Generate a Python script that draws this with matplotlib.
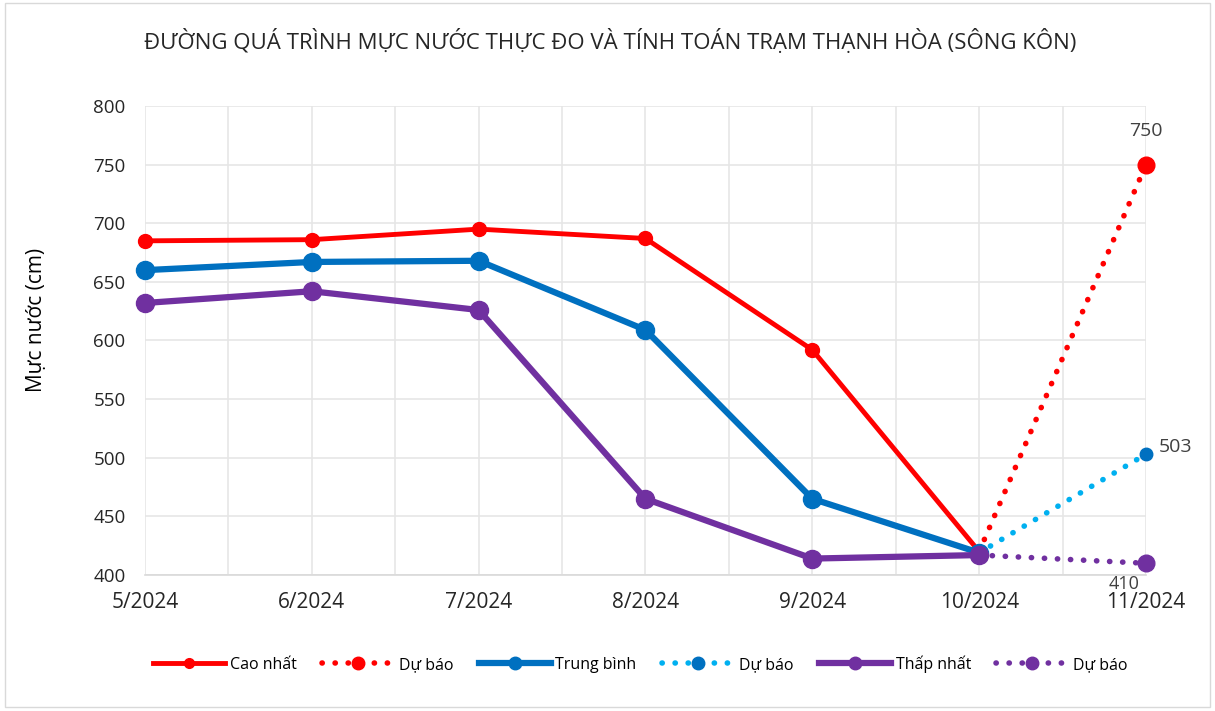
import numpy as np
import matplotlib.pyplot as plt
from matplotlib.lines import Line2D
from matplotlib.patches import Rectangle

plt.rcParams['font.family'] = ['Open Sans', 'DejaVu Sans']

months = ["5/2024", "6/2024", "7/2024", "8/2024", "9/2024", "10/2024", "11/2024"]
cao_nhat = [685, 686, 695, 687, 592, 420]
trung_binh = [660, 667, 668, 609, 465, 419]
thap_nhat = [632, 642, 626, 465, 414, 417]
du_bao_cao = [420, 750]
du_bao_tb = [419, 503]
du_bao_thap = [417, 410]

c_red = "#FF0000"
c_blue = "#0070C0"
c_lblue = "#00B0F0"
c_purple = "#7030A0"

fig = plt.figure(figsize=(12.15, 7.11), dpi=100)
ax = fig.add_axes([0.1193, 0.1913, 0.8239, 0.6596])

x = np.arange(len(cao_nhat))
xf = np.array([5, 6])
dots = (0, (0.05, 2.3))

ax.plot(xf, du_bao_cao, color=c_red, lw=4, linestyle=dots, dash_capstyle='round', zorder=3, clip_on=False)
ax.plot(xf[1:], du_bao_cao[1:], 'o', color=c_red, ms=12, zorder=4, clip_on=False)
ax.plot(xf, du_bao_tb, color=c_lblue, lw=4, linestyle=dots, dash_capstyle='round', zorder=3, clip_on=False)
ax.plot(xf[1:], du_bao_tb[1:], 'o', color=c_blue, ms=9, zorder=4, clip_on=False)
ax.plot(xf, du_bao_thap, color=c_purple, lw=4, linestyle=dots, dash_capstyle='round', zorder=3, clip_on=False)
ax.plot(xf[1:], du_bao_thap[1:], 'o', color=c_purple, ms=12, zorder=4, clip_on=False)

ax.plot(x, cao_nhat, color=c_red, lw=3.5, marker='o', ms=10, zorder=5, clip_on=False)
ax.plot(x, trung_binh, color=c_blue, lw=4.5, marker='o', ms=13, zorder=6, clip_on=False)
ax.plot(x, thap_nhat, color=c_purple, lw=4.5, marker='o', ms=13, zorder=7, clip_on=False)

ax.annotate(str(du_bao_cao[1]), (6, du_bao_cao[1]), xytext=(0, 18), textcoords='offset points',
            ha='center', va='bottom', fontsize=14, color='#404040')
ax.annotate(str(du_bao_tb[1]), (6, du_bao_tb[1]), xytext=(9, 5), textcoords='offset points',
            ha='left', va='center', fontsize=14, color='#404040')
ax.annotate(str(du_bao_thap[1]), (6, du_bao_thap[1]), xytext=(-16, -15), textcoords='offset points',
            ha='center', va='center', fontsize=13, color='#404040')

ax.set_xlim(0, 6)
ax.set_ylim(400, 800)
ax.set_yticks(np.arange(400, 801, 50))
ax.set_xticks(x.tolist() + [6])
ax.set_xticklabels(months, fontsize=15, color='#262626')
ax.set_xticks(np.arange(0.5, 6, 1), minor=True)
ax.tick_params(axis='y', labelsize=13.5, colors='#262626', length=0, pad=14)
ax.tick_params(axis='x', which='both', length=0, pad=12)
ax.grid(True, which='both', color='#e6e6e6', lw=1.2)
ax.set_axisbelow(True)
for s in ['top', 'right', 'left']:
    ax.spines[s].set_visible(False)
ax.spines['bottom'].set_color('#d9d9d9')
ax.spines['bottom'].set_linewidth(1.2)

fig.text(0.03, 0.55, "Mực nước (cm)", rotation=90, ha='center', va='center',
         fontsize=15, color='#000000')

fig.text(0.502, 0.941, "ĐƯỜNG QUÁ TRÌNH MỰC NƯỚC THỰC ĐO VÀ TÍNH TOÁN TRẠM THẠNH HÒA (SÔNG KÔN)",
         ha='center', va='center', fontsize=16, color='#262626')

handles = [
    Line2D([], [], color=c_red, lw=3.5, marker='o', ms=7),
    Line2D([], [], color=c_red, lw=4, linestyle=dots, dash_capstyle='round', marker='o', ms=9),
    Line2D([], [], color=c_blue, lw=4.5, marker='o', ms=9),
    Line2D([], [], color=c_lblue, lw=4, linestyle=dots, dash_capstyle='round', marker='o', ms=9, mfc=c_blue, mec=c_blue),
    Line2D([], [], color=c_purple, lw=4.5, marker='o', ms=9),
    Line2D([], [], color=c_purple, lw=4, linestyle=dots, dash_capstyle='round', marker='o', ms=9),
]
labels = ["Cao nhất", "Dự báo", "Trung bình", "Dự báo", "Thấp nhất", "Dự báo"]
fig.legend(handles, labels, loc='center', bbox_to_anchor=(0.527, 0.066), ncol=6, frameon=False,
           fontsize=11.5, handlelength=4.5, columnspacing=1.6, handletextpad=0.3)

fig.patches.append(Rectangle((0.004, 0.006), 0.992, 0.99, transform=fig.transFigure,
                             fill=False, edgecolor='#d9d9d9', lw=1))

fig.savefig("out.png", dpi=100)
